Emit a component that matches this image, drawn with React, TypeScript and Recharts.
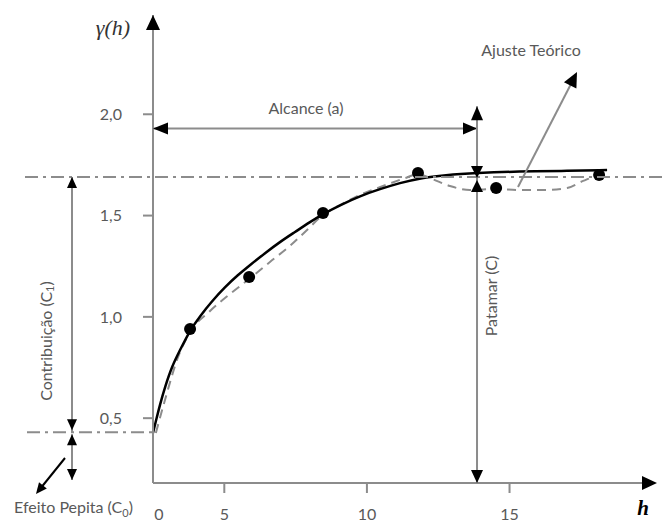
import { ComposedChart, Line, Scatter, XAxis, YAxis } from "recharts"

const W = 663
const H = 522
const Y_AXIS_W = 60
const X_AXIS_H = 39
const MARGIN = { top: 15, right: 8, bottom: 0, left: 93 }

const X_DOMAIN = [2.5, 20.1]
const Y_DOMAIN = [0.18, 2.49]

const xTicks = [2.5, 5, 10, 15]
const xTickLabels = ["0", "5", "10", "15"]
const yTicks = [0.5, 1.0, 1.5, 2.0]
const yTickLabels = ["0,5", "1,0", "1,5", "2,0"]

// experimental semivariogram points
const lagH = [3.8, 5.87, 8.46, 11.79, 14.53, 18.14]
const lagGamma = [0.94, 1.197, 1.513, 1.71, 1.636, 1.7]

// theoretical fit (solid line)
const fitH = [2.5, 2.61, 2.75, 2.92, 3.17, 3.45, 3.8, 4.15, 4.57, 5.02, 5.48, 5.9, 6.43, 6.95, 7.48, 8.0, 8.46, 9.06, 9.76, 10.46, 11.16, 11.86, 12.74, 13.82, 15.37, 16.77, 18.42]
const fitGamma = [0.427, 0.491, 0.57, 0.654, 0.758, 0.837, 0.935, 1.004, 1.078, 1.147, 1.207, 1.256, 1.315, 1.37, 1.419, 1.468, 1.508, 1.552, 1.597, 1.631, 1.661, 1.685, 1.7, 1.71, 1.718, 1.72, 1.725]

// experimental curve (dashed)
const expH = [2.6, 2.92, 3.38, 3.8, 4.5, 5.2, 5.87, 6.6, 7.3, 7.9, 8.46, 9.06, 9.76, 10.66, 11.34, 11.79, 12.28, 12.91, 13.61, 14.53, 15.37, 16.24, 17.02, 17.58, 18.14, 18.45]
const expGamma = [0.427, 0.59, 0.802, 0.925, 1.029, 1.113, 1.187, 1.271, 1.35, 1.429, 1.503, 1.552, 1.602, 1.651, 1.685, 1.705, 1.681, 1.646, 1.626, 1.631, 1.626, 1.626, 1.636, 1.671, 1.695, 1.695]

const NUGGET = 0.43
const SILL = 1.69
const RANGE = 13.86
const RANGE_ARROW_Y = 1.93
const RANGE_TOP = 2.04

const lagData = lagH.map((h, i) => ({ h, g: lagGamma[i] }))
const fitData = fitH.map((h, i) => ({ h, g: fitGamma[i] }))
const expData = expH.map((h, i) => ({ h, g: expGamma[i] }))

const TEXT = "#595959"
const GRAY = "#8c8c8c"
const FONT = "Lato, 'Open Sans', sans-serif"
const X_TICK_SIZE = 10
const X_TICK_MARGIN = 16

// same linear mapping recharts uses for the plot area
const left = MARGIN.left + Y_AXIS_W
const right = W - MARGIN.right
const top = MARGIN.top
const bottom = H - X_AXIS_H
const sx = (h: number) => left + ((h - X_DOMAIN[0]) / (X_DOMAIN[1] - X_DOMAIN[0])) * (right - left)
const sy = (v: number) => bottom - ((v - Y_DOMAIN[0]) / (Y_DOMAIN[1] - Y_DOMAIN[0])) * (bottom - top)

const head = (tx: number, ty: number, dx: number, dy: number, len = 14, hw = 6) => {
  const n = Math.hypot(dx, dy)
  const ux = dx / n
  const uy = dy / n
  const bx = tx - ux * len
  const by = ty - uy * len
  return `${tx},${ty} ${bx - uy * hw},${by + ux * hw} ${bx + uy * hw},${by - ux * hw}`
}

const XTick = (props: any) => {
  const { x, y, index } = props
  const axisY = y - X_TICK_SIZE - X_TICK_MARGIN
  return (
    <g>
      {index > 0 && <line x1={x} x2={x} y1={axisY} y2={axisY + X_TICK_SIZE} stroke={GRAY} strokeWidth={2} />}
      <text x={x + (index === 0 ? 6 : 0)} y={y} dy="0.71em" textAnchor="middle" fill={TEXT} fontSize={16} fontFamily={FONT}>
        {xTickLabels[index]}
      </text>
    </g>
  )
}

const Dot = (props: any) => <circle cx={props.cx} cy={props.cy} r={6} fill="#000" />

const Annotations = () => {
  const ySill = sy(SILL)
  const yNug = sy(NUGGET)
  const xr = sx(RANGE)
  const ya = sy(RANGE_ARROW_Y)
  const cx = 72
  return (
    <svg width={W} height={H} style={{ position: "absolute", left: 0, top: 0, pointerEvents: "none" }}>
      {/* axis arrows */}
      <polygon points={head(left, top, 0, -1, 15, 7)} fill="#000" />
      <polygon points={head(right + 2, bottom, 1, 0, 15, 7)} fill="#000" />
      <text x={113} y={35} textAnchor="middle" fontFamily="'Liberation Serif', serif" fontStyle="italic" fontSize={22} fill="#333">
        γ(h)
      </text>
      <text x={643} y={515} textAnchor="middle" fontFamily="'Liberation Serif', serif" fontStyle="italic" fontWeight="bold" fontSize={21} fill="#000">
        h
      </text>

      {/* sill and nugget */}
      <line x1={25} x2={W} y1={ySill} y2={ySill} stroke={GRAY} strokeWidth={2} strokeDasharray="13 5 3 5" />
      <line x1={27} x2={left} y1={yNug} y2={yNug} stroke={GRAY} strokeWidth={2} strokeDasharray="13 5 3 5" />

      {/* range */}
      <line x1={left} x2={xr} y1={ya} y2={ya} stroke={GRAY} strokeWidth={2} />
      <polygon points={head(left, ya, -1, 0, 15, 6)} fill="#000" />
      <polygon points={head(xr, ya, 1, 0, 14, 6)} fill="#000" />
      <text x={306} y={114} textAnchor="middle" fill={TEXT} fontSize={16} fontFamily={FONT}>
        Alcance (a)
      </text>

      {/* vertical at range: sill marker and patamar */}
      <line x1={xr} x2={xr} y1={sy(RANGE_TOP)} y2={bottom} stroke={GRAY} strokeWidth={2} />
      <polygon points={head(xr, sy(RANGE_TOP), 0, -1, 14, 6)} fill="#000" />
      <polygon points={head(xr, ySill + 1, 0, 1, 12, 6)} fill="#000" />
      <polygon points={head(xr, ySill + 3, 0, -1, 12, 6)} fill="#000" />
      <polygon points={head(xr, bottom, 0, 1, 13, 6)} fill="#000" />
      <text x={490} y={296} transform="rotate(-90 490 296)" textAnchor="middle" dominantBaseline="central" fill={TEXT} fontSize={16} fontFamily={FONT}>
        Patamar (C)
      </text>

      {/* contribuição */}
      <line x1={cx} x2={cx} y1={ySill} y2={yNug} stroke={GRAY} strokeWidth={2} />
      <polygon points={head(cx, ySill, 0, -1, 11, 5)} fill="#000" />
      <polygon points={head(cx, yNug - 2, 0, 1, 11, 5)} fill="#000" />
      <text x={45} y={341} transform="rotate(-90 45 341)" textAnchor="middle" dominantBaseline="central" fill={TEXT} fontSize={16} fontFamily={FONT}>
        Contribuição (C<tspan fontSize={11} dy={4}>1</tspan>
        <tspan dy={-4}>)</tspan>
      </text>

      {/* efeito pepita */}
      <line x1={cx} x2={cx} y1={yNug + 2} y2={bottom - 3} stroke={GRAY} strokeWidth={2} />
      <polygon points={head(cx, yNug + 2, 0, -1, 11, 5)} fill="#000" />
      <polygon points={head(cx, bottom - 3, 0, 1, 11, 5)} fill="#000" />
      <line x1={65} y1={458} x2={40} y2={489} stroke="#000" strokeWidth={2} />
      <polygon points={head(36, 494, -29, 36, 11, 5)} fill="#000" />
      <text x={14} y={513} fill={TEXT} fontSize={16} fontFamily={FONT}>
        Efeito Pepita (C<tspan fontSize={11} dy={4}>0</tspan>
        <tspan dy={-4}>)</tspan>
      </text>

      {/* ajuste teórico */}
      <line x1={518} y1={187} x2={572} y2={82} stroke={GRAY} strokeWidth={2} />
      <polygon points={head(577, 72, 59, -115, 15, 7)} fill="#000" />
      <text x={531} y={56} textAnchor="middle" fill={TEXT} fontSize={16} fontFamily={FONT}>
        Ajuste Teórico
      </text>
    </svg>
  )
}

const App = () => {
  return (
    <div style={{ position: "absolute", left: 0, top: 0, width: W, height: H, background: "#fff" }}>
      <ComposedChart width={W} height={H} margin={MARGIN}>
        <XAxis
          type="number"
          dataKey="h"
          domain={X_DOMAIN}
          ticks={xTicks}
          allowDataOverflow
          height={X_AXIS_H}
          axisLine={{ stroke: GRAY, strokeWidth: 2 }}
          tickLine={false}
          tickSize={X_TICK_SIZE}
          tickMargin={X_TICK_MARGIN}
          tick={<XTick />}
          interval={0}
        />
        <YAxis
          type="number"
          dataKey="g"
          domain={Y_DOMAIN}
          ticks={yTicks}
          allowDataOverflow
          width={Y_AXIS_W}
          axisLine={{ stroke: GRAY, strokeWidth: 2 }}
          tickLine={{ stroke: GRAY, strokeWidth: 2 }}
          tickSize={10}
          tickMargin={21}
          tick={{ fill: TEXT, fontSize: 16, fontFamily: FONT }}
          tickFormatter={(v: number) => yTickLabels[yTicks.indexOf(v)] ?? String(v)}
          interval={0}
        />
        <Line
          data={expData}
          dataKey="g"
          type="monotone"
          stroke={GRAY}
          strokeWidth={2}
          strokeDasharray="9 6"
          dot={false}
          activeDot={false}
          isAnimationActive={false}
        />
        <Line
          data={fitData}
          dataKey="g"
          type="basis"
          stroke="#000"
          strokeWidth={2.5}
          dot={false}
          activeDot={false}
          isAnimationActive={false}
        />
        <Scatter data={lagData} dataKey="g" shape={<Dot />} isAnimationActive={false} />
      </ComposedChart>
      <Annotations />
    </div>
  )
}

export default App
